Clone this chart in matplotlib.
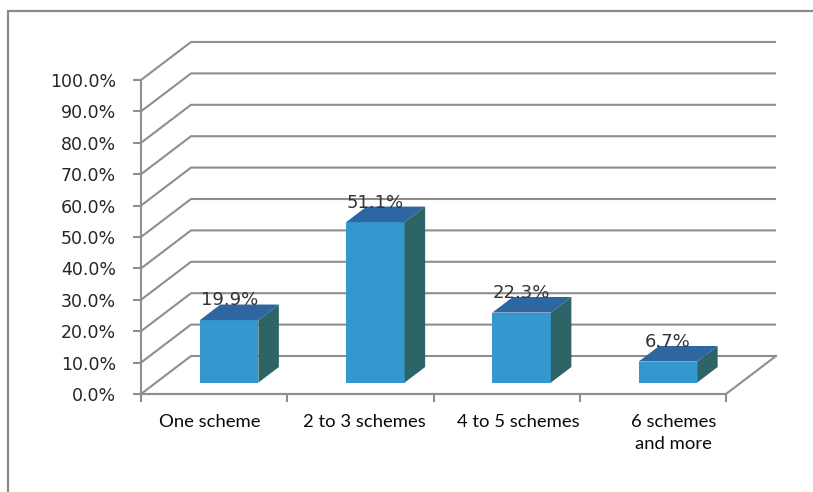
import matplotlib
matplotlib.use("Agg")
import matplotlib.pyplot as plt
from matplotlib.patches import Polygon, Rectangle

# Data
categories = ["One scheme", "2 to 3 schemes", "4 to 5 schemes", "6 schemes\nand more"]
shares = [19.9, 51.1, 22.3, 6.7]
y_ticks = list(range(0, 101, 10))
y_tick_labels = [f"{v:.1f}%" for v in y_ticks]

# Styling
FRONT = "#3497CE"
TOP = "#2E66A2"
SIDE = "#2D6566"
GRID = "#8E8E8E"
TEXT = "#262626"

W, H, DPI = 813, 492, 100
fig = plt.figure(figsize=(W / DPI, H / DPI), dpi=DPI)

# Outer chart frame
fig.patches.append(Rectangle((8 / W, -0.1), 1.2, (H - 11) / H + 0.1,
                             transform=fig.transFigure, fill=False,
                             edgecolor="#8A8A8A", linewidth=1.6))

# Front plane of the plot area
left, right, bottom, top = 141, 726, 394, 80
ax = fig.add_axes([left / W, (H - bottom) / H, (right - left) / W, (bottom - top) / H])
n = len(categories)
ax.set_xlim(0, n)
ax.set_ylim(0, 100)
ax.set_facecolor("none")

# Depth of the 3D box, in data units
px_x = n / (right - left)
px_y = 100 / (bottom - top)
DX = 50 * px_x
DY = 38 * px_y

lw = 1.5
# Walls: gridlines running back and along the rear wall
for v in y_ticks:
    ax.plot([0, DX, n + DX], [v, v + DY, v + DY], color=GRID, lw=lw,
            clip_on=False, solid_capstyle="butt", zorder=1)
# Floor edges
ax.plot([0, n, n + DX], [0, 0, DY], color=GRID, lw=lw, clip_on=False, zorder=1)

# Axis styling
for s in ("top", "right"):
    ax.spines[s].set_visible(False)
for s in ("left", "bottom"):
    ax.spines[s].set_color(GRID)
    ax.spines[s].set_linewidth(lw)
ax.set_yticks(y_ticks)
ax.set_yticklabels(y_tick_labels)
ax.tick_params(axis="y", direction="out", length=6, width=lw, color=GRID,
               pad=12, labelsize=12.5, labelcolor=TEXT)
ax.set_xticks(range(n + 1))
ax.set_xticklabels([""] * (n + 1))
ax.tick_params(axis="x", direction="out", length=6, width=lw, color=GRID)

# 3D columns
bar_w = 0.4
f0, f1 = 0.30, 0.71
for i, (cat, val) in enumerate(zip(categories, shares)):
    x0 = i + (1 - bar_w) / 2 + f0 * DX
    x1 = x0 + bar_w
    y0 = f0 * DY
    y1 = y0 + val
    ddx = (f1 - f0) * DX
    ddy = (f1 - f0) * DY
    ax.add_patch(Polygon([(x0, y0), (x1, y0), (x1, y1), (x0, y1)],
                         closed=True, facecolor=FRONT, edgecolor="none",
                         clip_on=False, zorder=3))
    ax.add_patch(Polygon([(x0, y1), (x1, y1), (x1 + ddx, y1 + ddy), (x0 + ddx, y1 + ddy)],
                         closed=True, facecolor=TOP, edgecolor="none",
                         clip_on=False, zorder=3))
    ax.add_patch(Polygon([(x1, y0), (x1 + ddx, y0 + ddy), (x1 + ddx, y1 + ddy), (x1, y1)],
                         closed=True, facecolor=SIDE, edgecolor="none",
                         clip_on=False, zorder=3))
    ax.text((x0 + x1) / 2, y1 + ddy - 0.3, f"{val:.1f}%", ha="center", va="baseline",
            fontsize=13, color="#333333", family="DejaVu Sans", zorder=4)
    # Category label under the floor
    lx = i + 0.5 + (i - 0.55) * 8.4 * px_x
    ax.text(lx, -6.4, cat, ha="center", va="top", fontsize=13.3,
            family=["Lato", "DejaVu Sans"], color="#0A0A0A",
            linespacing=1.42)

fig.savefig("out.png", dpi=DPI)
